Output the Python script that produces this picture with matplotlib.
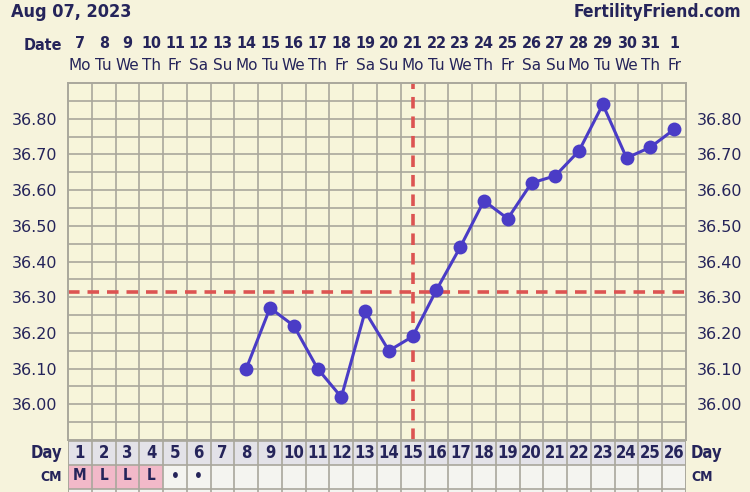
import matplotlib
matplotlib.use("Agg")
import matplotlib.pyplot as plt
from matplotlib.transforms import blended_transform_factory
from matplotlib.patches import Rectangle
import numpy as np

# ---------------- data ----------------
cycle_days = list(range(1, 27))
dates = ["7", "8", "9", "10", "11", "12", "13", "14", "15", "16", "17", "18", "19",
         "20", "21", "22", "23", "24", "25", "26", "27", "28", "29", "30", "31", "1"]
weekdays = ["Mo", "Tu", "We", "Th", "Fr", "Sa", "Su"] * 3 + ["Mo", "Tu", "We", "Th", "Fr"]
temp_days = [8, 9, 10, 11, 12, 13, 14, 15, 16, 17, 18, 19, 20, 21, 22, 23, 24, 25, 26]
temps = [36.10, 36.27, 36.22, 36.10, 36.02, 36.26, 36.15, 36.19, 36.32, 36.44,
         36.57, 36.52, 36.62, 36.64, 36.71, 36.84, 36.69, 36.72, 36.77]
ytick_vals = [36.00, 36.10, 36.20, 36.30, 36.40, 36.50, 36.60, 36.70, 36.80]
coverline = 36.315
ovulation_day = 15
cm_labels = ["M", "L", "L", "L", "•", "•"] + [""] * 20
cm_menses = [True, True, True, True] + [False] * 22
title_left = "Aug 07, 2023"
title_right = "FertilityFriend.com"

# ---------------- style ----------------
W, H = 750, 492
BG = "#f6f3dc"
GRID_BG = "#f7f5da"
GRID = "#a9a79c"
TXT = "#25245a"
LINE = "#4a3cc6"
RED = "#dc5452"
DAYROW = "#e3e2e8"
CMROW = "#f4f4f0"
PINK = "#f2b9c9"
BOLD = dict(fontweight="bold", fontstretch="condensed")

fig = plt.figure(figsize=(W / 100, H / 100), dpi=100, facecolor=BG)

def fx(px):
    return px / W

def fy(py):
    return 1 - py / H

L, R, T, B = 68, 686, 83, 440
ax = fig.add_axes([fx(L), fy(B), fx(R - L), (B - T) / H])
ax.set_facecolor(GRID_BG)
ax.set_xlim(0.5, 26.5)
ax.set_ylim(35.90, 36.90)

# grid
for v in np.arange(35.95, 36.899, 0.05):
    ax.axhline(v, color=GRID, lw=1.2, zorder=1)
for d in cycle_days[:-1]:
    ax.axvline(d + 0.5, color=GRID, lw=1.2, zorder=1)
for s in ax.spines.values():
    s.set_color(GRID)
    s.set_linewidth(1.4)

ax.set_xticks([])
ax.set_yticks(ytick_vals)
ax.set_yticklabels([f"{v:.2f}" for v in ytick_vals])
ax.tick_params(axis="y", left=False, right=False, labelleft=True, labelright=True,
               labelsize=11.5, labelcolor=TXT, pad=4.3)

# coverline and ovulation line
ax.axhline(coverline, color=RED, lw=2.6, ls=(0, (3.2, 2.2)), zorder=2)
ax.axvline(ovulation_day, color=RED, lw=2.6, ls=(0, (3.2, 2.2)), zorder=2)

# temperatures
ax.plot(temp_days, temps, color=LINE, lw=2.2, marker="o", ms=10,
        markeredgewidth=0, zorder=3)

# header texts
fig.text(fx(11), fy(12), title_left, fontsize=13, color=TXT,
         va="center", ha="left", **BOLD)
fig.text(fx(741), fy(12), title_right, fontsize=12.5, color=TXT,
         va="center", ha="right", **BOLD)

trans = blended_transform_factory(ax.transData, fig.transFigure)
fig.text(fx(62), fy(46), "Date", fontsize=11.5, color=TXT,
         va="center", ha="right", **BOLD)
for d, dt, wd in zip(cycle_days, dates, weekdays):
    ax.text(d, fy(43), dt, transform=trans, fontsize=11.5, **BOLD,
            color=TXT, ha="center", va="center")
    ax.text(d, fy(66), wd, transform=trans, fontsize=11, color=TXT,
            ha="center", va="center")

# bottom rows
ax2 = fig.add_axes([fx(L), 0, fx(R - L), (H - B) / H])
ax2.set_xlim(0.5, 26.5)
ax2.set_ylim(H - B, 0)
ax2.set_facecolor(CMROW)
ax2.axis("off")
ax2.add_patch(Rectangle((0.5, 1), 26, 24, facecolor=DAYROW, edgecolor="none", zorder=0))
ax2.add_patch(Rectangle((0.5, 25), 26, 30, facecolor=CMROW, edgecolor="none", zorder=0))
for d, menses in zip(cycle_days, cm_menses):
    if menses:
        ax2.add_patch(Rectangle((d - 0.5, 25), 1, 24, facecolor=PINK,
                                edgecolor="none", zorder=0.5))
for yy in [1, 25, 49]:
    ax2.axhline(yy, color=GRID, lw=1.2, zorder=1)
for d in cycle_days[:-1]:
    ax2.axvline(d + 0.5, color=GRID, lw=1.2, zorder=1)
ax2.axvline(0.5, color=GRID, lw=1.4, zorder=1)
ax2.axvline(26.5, color=GRID, lw=1.4, zorder=1)

for d, cm in zip(cycle_days, cm_labels):
    ax2.text(d, 13.5, str(d), fontsize=12, color=TXT,
             ha="center", va="center", **BOLD)
    if cm:
        ax2.text(d, 36, cm, fontsize=11 if cm != "•" else 11, color=TXT,
                 ha="center", va="center", **BOLD)

fig.text(fx(62), fy(453), "Day", fontsize=12, color=TXT,
         va="center", ha="right", **BOLD)
fig.text(fx(691), fy(453), "Day", fontsize=12, color=TXT,
         va="center", ha="left", **BOLD)
fig.text(fx(62), fy(477), "CM", fontsize=10, color=TXT,
         va="center", ha="right", **BOLD)
fig.text(fx(691), fy(477), "CM", fontsize=10, color=TXT,
         va="center", ha="left", **BOLD)

fig.savefig("out.png", dpi=100, facecolor=BG)
